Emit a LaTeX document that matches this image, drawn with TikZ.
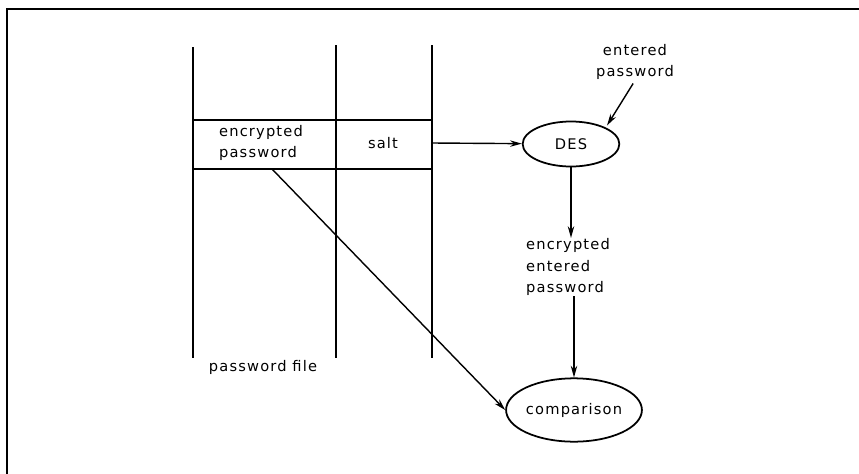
\documentclass[tikz,border=0pt]{standalone}
\usepackage{fontspec}
\setmainfont{DejaVu Sans}[LetterSpace=8]
\usetikzlibrary{shapes.geometric,arrows.meta}

\begin{document}
\begin{tikzpicture}[x=0.03cm,y=-0.03cm,line width=1.5pt,
    lbl/.style={font=\fontsize{12.5}{18}\selectfont,align=left,inner sep=0pt},
    oval/.style={draw,ellipse,inner sep=0pt,font=\fontsize{12.5}{18}\selectfont},
    arr/.style={line width=1.2pt,-{Stealth[length=10pt,width=5.5pt]}}]
    \useasboundingbox (0,0) rectangle (859,474);
    \fill[white] (0,0) rectangle (859,474);
    % frame
    \draw[line width=2.4pt] (7,474) -- (7,9) -- (859,9);
    % password file
    \foreach \x/\y in {193/47,336/45,432/45}
    {
      \draw (\x,\y) -- (\x,358);
    }
    \draw (193,120) -- (432,120);
    \draw (193,169) -- (432,169);
    \node[lbl] (enc) at (261,143) {encrypted\\password};
    \node[lbl] (salt) at (383,143) {salt};
    \node[lbl] (pwfile) at (263,367) {password file};
    \coordinate (saltout) at (432,143);
    \coordinate (encout) at (272,169);
    % DES and comparison
    \node[oval,minimum width=2.9cm,minimum height=1.35cm] (des) at (571,144) {DES};
    \node[lbl,align=center] (entered) at (635,62) {entered\\password};
    \node[lbl] (encent) at (568,267) {encrypted\\entered\\password};
    \node[oval,minimum width=3.6cm,minimum height=1.9cm] (comp) at (574,410) {comparison};
    \draw[arr] (saltout) -- (des);
    \draw[arr,shorten <=3pt,shorten >=2pt] (entered.south) -- (des.north east);
    \draw[arr] (des.south) -- (des.south |- encent.north);
    \draw[arr] (encent.south -| comp.north) -- (comp.north);
    \draw[arr] (encout) -- (comp.west);
\end{tikzpicture}
\end{document}
